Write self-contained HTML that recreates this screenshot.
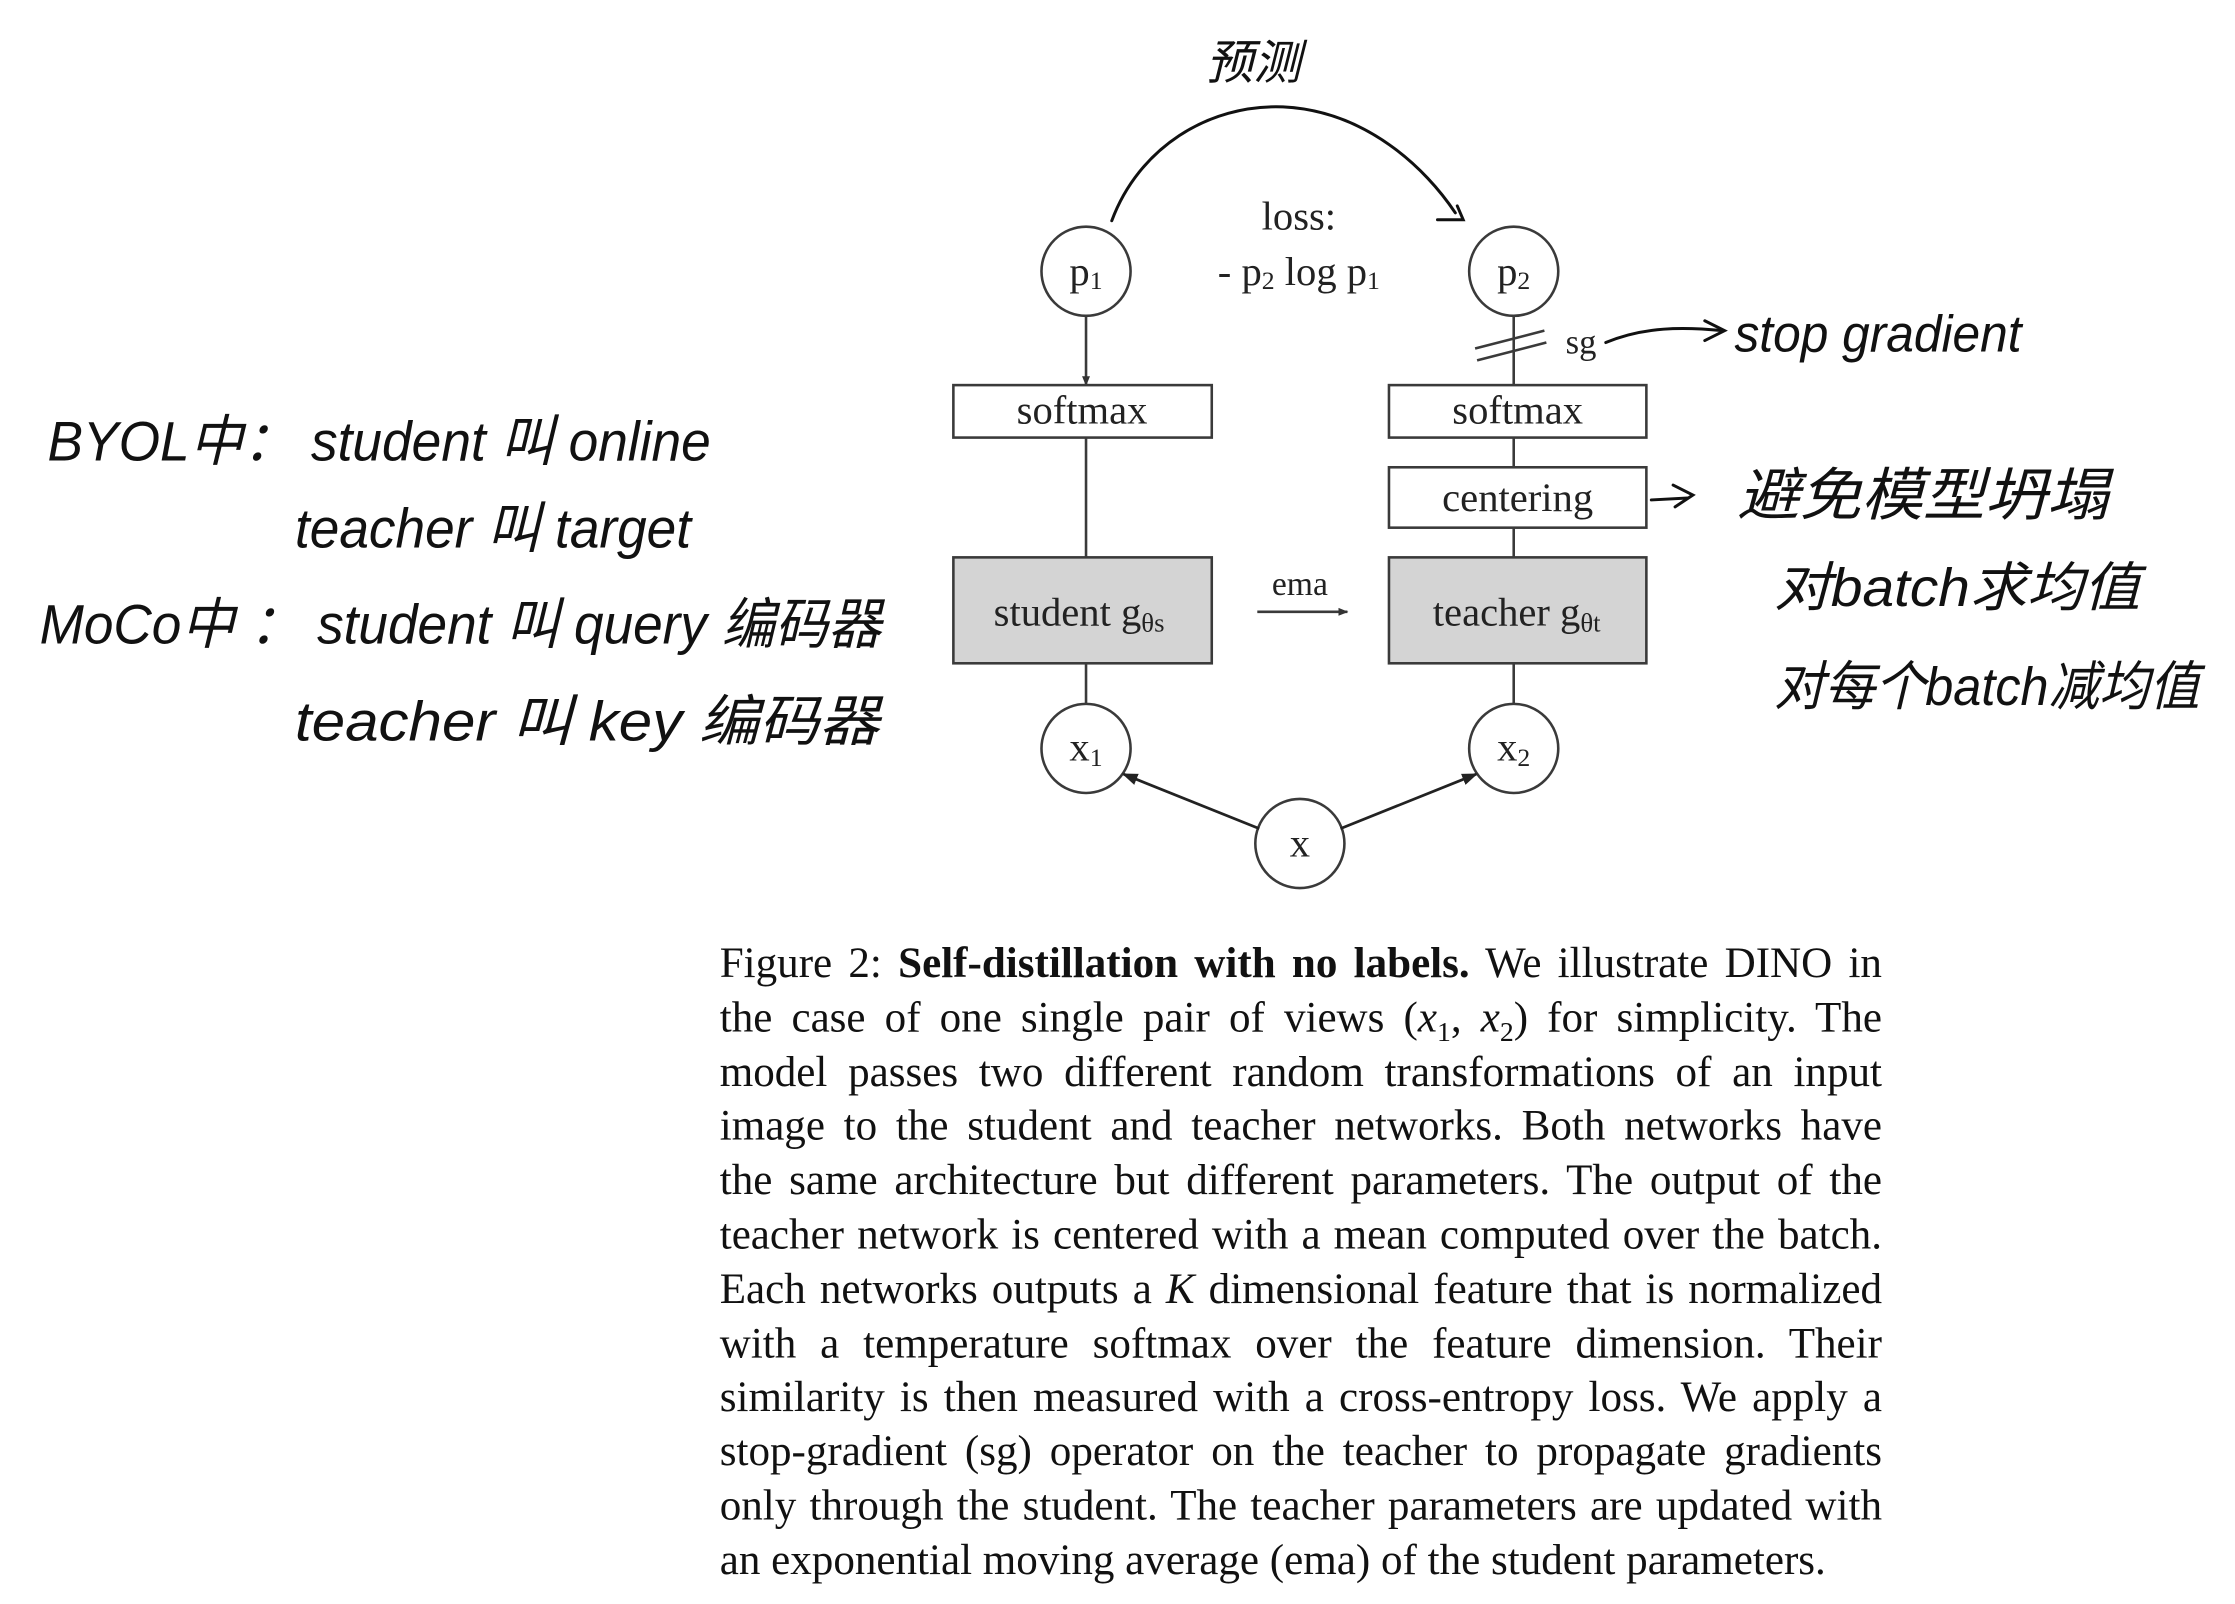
<!DOCTYPE html>
<html><head><meta charset="utf-8"><style>
html,body{margin:0;padding:0;background:#fff;}
body{width:2235px;height:1604px;position:relative;overflow:hidden;}
#w{position:absolute;left:0;top:0;width:2235px;height:1604px;transform:scale(0.99);transform-origin:0 0;}
svg{position:absolute;left:0;top:0;}
.cap{position:absolute;left:727px;top:946px;width:1174px;font-family:"Liberation Serif",serif;font-size:43.5px;color:#111;}
.cap div{height:54.8px;line-height:54.8px;text-align:justify;text-align-last:justify;white-space:nowrap;}
.cap div.last{text-align-last:left;}
i{font-style:italic;}
</style></head><body><div id="w">
<svg width="2235" height="1604" viewBox="0 0 2235 1604" font-family="Liberation Serif, serif" fill="none">
<defs>
<marker id="ar" markerWidth="10" markerHeight="10" refX="9" refY="5" orient="auto" markerUnits="userSpaceOnUse"><path d="M0,1 L10,5 L0,9 Z" fill="#333"/></marker>
<marker id="ar2" markerWidth="16" markerHeight="14" refX="14" refY="7" orient="auto" markerUnits="userSpaceOnUse"><path d="M0,1 L16,7 L0,13 Z" fill="#222"/></marker>
</defs>
<g stroke="#3a3a3a" stroke-width="2.6">
<line x1="1097" y1="319" x2="1097" y2="389" marker-end="url(#ar)"/>
<line x1="1097" y1="442" x2="1097" y2="563"/>
<line x1="1097" y1="670" x2="1097" y2="711"/>
<line x1="1529" y1="319" x2="1529" y2="389"/>
<line x1="1529" y1="442" x2="1529" y2="472"/>
<line x1="1529" y1="533" x2="1529" y2="563"/>
<line x1="1529" y1="670" x2="1529" y2="711"/>
<line x1="1490" y1="352" x2="1560" y2="334"/>
<line x1="1492" y1="364" x2="1562" y2="346"/>
<circle cx="1097" cy="274" r="45" fill="#fff"/>
<circle cx="1529" cy="274" r="45" fill="#fff"/>
<circle cx="1097" cy="756" r="45" fill="#fff"/>
<circle cx="1529" cy="756" r="45" fill="#fff"/>
<circle cx="1313" cy="852" r="45" fill="#fff"/>
<rect x="963" y="389" width="261" height="53" fill="#fff"/>
<rect x="1403" y="389" width="260" height="53" fill="#fff"/>
<rect x="1403" y="472" width="260" height="61" fill="#fff"/>
<rect x="963" y="563" width="261" height="107" fill="#d4d4d4"/>
<rect x="1403" y="563" width="260" height="107" fill="#d4d4d4"/>
<line x1="1270" y1="618" x2="1361" y2="618" marker-end="url(#ar)"/>
</g>
<g stroke="#222" stroke-width="2.8">
<line x1="1272" y1="837" x2="1135" y2="782" marker-end="url(#ar2)"/>
<line x1="1354" y1="837" x2="1491" y2="782" marker-end="url(#ar2)"/>
</g>
<g fill="#222" font-size="41" text-anchor="middle">
<text x="1097" y="288">p<tspan font-size="26" dy="4">1</tspan></text>
<text x="1529" y="288">p<tspan font-size="26" dy="4">2</tspan></text>
<text x="1097" y="768">x<tspan font-size="26" dy="6">1</tspan></text>
<text x="1529" y="768">x<tspan font-size="26" dy="6">2</tspan></text>
<text x="1313" y="865">x</text>
<text x="1312" y="232">loss:</text>
<text x="1312" y="288">- p<tspan font-size="26" dy="4">2</tspan><tspan dy="-4"> log p</tspan><tspan font-size="26" dy="4">1</tspan></text>
<text x="1093" y="428">softmax</text>
<text x="1533" y="428">softmax</text>
<text x="1533" y="516">centering</text>
<text x="1090" y="632">student g<tspan font-size="27" dy="6">θs</tspan></text>
<text x="1532" y="632">teacher g<tspan font-size="27" dy="6">θt</tspan></text>
<text x="1313" y="601" font-size="34">ema</text>
<text x="1597" y="357" font-size="35">sg</text>
</g>
<g stroke="#111" stroke-width="3" fill="none" stroke-linecap="round">
<path d="M1123,223 C1150,150 1220,105 1296,108 C1380,112 1440,170 1470,215"/>
<path d="M1452,222 L1478,222 L1472,208"/>
<path d="M1622,346 C1660,330 1700,330 1740,334"/>
<path d="M1722,324 L1742,334 L1722,344"/>
<path d="M1668,505 L1705,503"/>
<path d="M1690,490 L1710,500 L1692,512"/>
</g>
<g fill="#111" font-family="Liberation Sans Narrow, Liberation Sans, WenQuanYi Zen Hei, sans-serif" font-style="italic" font-weight="300">
<text x="1218" y="80" font-size="48">预测</text>
<text x="1752" y="355" font-size="52" textLength="290" lengthAdjust="spacingAndGlyphs">stop gradient</text>
<text x="1755" y="520" font-size="58" textLength="375" lengthAdjust="spacingAndGlyphs">避免模型坍塌</text>
<text x="1792" y="612" font-size="54" textLength="370" lengthAdjust="spacingAndGlyphs">对batch求均值</text>
<text x="1792" y="712" font-size="54" textLength="430" lengthAdjust="spacingAndGlyphs">对每个batch减均值</text>
<text x="48" y="465" font-size="56" textLength="670" lengthAdjust="spacingAndGlyphs">BYOL中： student 叫 online</text>
<text x="298" y="553" font-size="56" textLength="400" lengthAdjust="spacingAndGlyphs">teacher 叫 target</text>
<text x="40" y="650" font-size="56" textLength="850" lengthAdjust="spacingAndGlyphs">MoCo中 ： student 叫 query 编码器</text>
<text x="298" y="748" font-size="56" textLength="590" lengthAdjust="spacingAndGlyphs">teacher 叫 key 编码器</text>
</g>
</svg>
<div class="cap">
<div>Figure 2: <b>Self-distillation with no labels.</b> We illustrate DINO in</div>
<div>the case of one single pair of views (<i>x</i><sub style="font-size:28px">1</sub>, <i>x</i><sub style="font-size:28px">2</sub>) for simplicity. The</div>
<div>model passes two different random transformations of an input</div>
<div>image to the student and teacher networks. Both networks have</div>
<div>the same architecture but different parameters. The output of the</div>
<div>teacher network is centered with a mean computed over the batch.</div>
<div>Each networks outputs a <i>K</i> dimensional feature that is normalized</div>
<div>with a temperature softmax over the feature dimension. Their</div>
<div>similarity is then measured with a cross-entropy loss. We apply a</div>
<div>stop-gradient (sg) operator on the teacher to propagate gradients</div>
<div>only through the student. The teacher parameters are updated with</div>
<div class="last">an exponential moving average (ema) of the student parameters.</div>
</div>
</div></body></html>
